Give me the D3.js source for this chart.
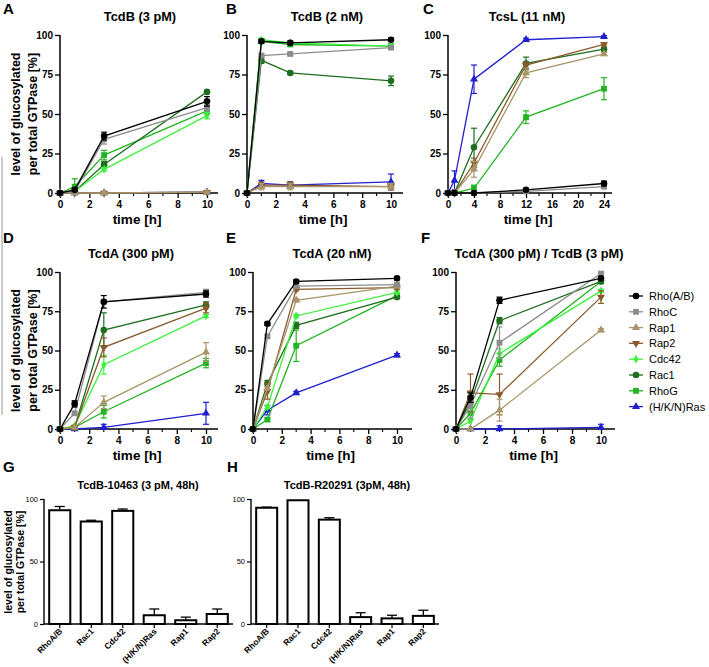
<!DOCTYPE html>
<html>
<head>
<meta charset="utf-8">
<script src="https://cdn.jsdelivr.net/npm/d3@7"></script>
<style>
  body { margin: 0; background: #fff; }
  svg { font-family: Arial, "Liberation Sans", sans-serif; }
</style>
</head>
<body>
<svg id="chart" width="709" height="667"></svg>
<script>
// ---- data ----
const seriesNames = ["Rho(A/B)", "RhoC", "Rap1", "Rap2", "Cdc42", "Rac1", "RhoG", "(H/K/N)Ras"];
const seriesColors = ["#000000", "#8c8c8c", "#a8966a", "#8b5a2b", "#3ef03e", "#1e6e1e", "#22b422", "#1f1fd0"];
const seriesShapes = ["circle", "square", "up", "down", "diamond", "circle", "square", "up"];

const times10 = [0, 1, 3, 10];
const times24 = [0, 1, 4, 12, 24];
const ticks10 = [0, 2, 4, 6, 8, 10];
const ticks24 = [0, 4, 8, 12, 16, 20, 24];
const yTicks = [0, 25, 50, 75, 100];

// TcdB (3 pM)
const tcdB3pM = [[0,2,36,58],[0,1,34,54],[0,0,0,0.5],[0,0,0,0.5],[0,1,15,49],[0,1,18,64],[0,4,24,52],[0,0,0,0.5]];
const tcdB3pMErr = [[0,1,2.5,3],[0,0,3,2],[0,0,0,0],[0,0,0,0],[0,0,1,2],[0,0,2,1],[0,5,3,2],[0,0,0,0]];
// TcdB (2 nM)
const tcdB2nM = [[0,96,95,97],[0,87,88,92],[0,4,4,4],[0,5,5,4],[0,97,95,93],[0,84,76,71],[0,96,94,93],[0,6,5,7]];
const tcdB2nMErr = [[0,1,1,1],[0,1,1,1],[0,2,2,2],[0,2,2,2],[0,1,1,1],[0,2,1,3],[0,1,1,1],[0,2,2,5]];
// TcsL (11 nM)
const tcsL = [[0,0,0,2,6],[0,0,0,1,4],[0,0,15,76,88],[0,0,19,81,94],null,[0,0,29,82,91],[0,0,3,48,66],[0,8,72,97,99]];
const tcsLErr = [[0,0,0,0.5,1.5],[0,0,0,0,1],[0,0,5,3,1],[0,0,3,2,1],null,[0,0,12,4,1],[0,0,2,4,7],[0,6,9,1,0.5]];
// TcdA (300 pM)
const tcdA300 = [[0,16,81,86],[0,10,81,87],[0,1,17,49],[0,1,52,77],[0,2,41,72],[0,1,63,79],[0,1,11,42],[0,0,1,10]];
const tcdA300Err = [[0,2,4,2],[0,1,1,2],[0,0,4,6],[0,0,6,3],[0,0,6,1],[0,0,11,2],[0,0,4,3],[0,0,2,7]];
// TcdA (20 nM)
const tcdA20 = [[0,67,94,96],[0,59,91,92],[0,26,82,91],[0,24,89,90],[0,14,72,87],[0,29,66,84],[0,6,53,85],[0,12,23,47]];
const tcdA20Err = [[0,1,1,1],[0,1,1,1],[0,1,1,1],[0,5,1,1],[0,1,1,1],[0,2,2,1],[0,1,10,1],[0,3,1,1]];
// TcdA (300 pM) / TcdB (3 pM)
const tcdAB = [[0,20,82,96],[0,15,55,99],[0,0,12,63],[0,23,22,84],[0,5,48,88],[0,17,69,94],[0,10,44,94],[0,0,0,1]];
const tcdABErr = [[0,3,2,1],[0,8,10,1],[0,0,7,1],[0,12,13,4],[0,8,3,1],[0,0,2,1],[0,4,4,1],[0,0,2,2]];

// bar panels
const barLabels = ["RhoA/B", "Rac1", "Cdc42", "(H/K/N)Ras", "Rap1", "Rap2"];
const bar10463 = [91, 82, 90.5, 7, 3, 8];
const bar10463Err = [3, 1, 1.5, 5, 2.5, 4];
const barR20291 = [93, 99, 83.5, 5.5, 4.5, 6.5];
const barR20291Err = [0.5, 0, 1.5, 3.5, 2.5, 4.5];
const barTicks = [0, 50, 100];

const svg = d3.select("#chart");

// thin grey line at the left edge (as in the figure)
svg.append("line").attr("x1", 2).attr("x2", 2).attr("y1", 157).attr("y2", 415)
  .attr("stroke", "#999").attr("stroke-width", 1);

function symbolPath(shape) {
  const t = { circle: d3.symbolCircle, square: d3.symbolSquare, up: d3.symbolTriangle,
              down: d3.symbolTriangle, diamond: d3.symbolDiamond }[shape];
  const size = { circle: 34, square: 34, up: 28, down: 28, diamond: 22 }[shape];
  return d3.symbol().type(t).size(size)();
}

function linePanel(p) {
  const g = svg.append("g");
  const x = d3.scaleLinear().domain([0, p.xMax]).range([p.x0, p.x1]);
  const y = d3.scaleLinear().domain([0, 100]).range([p.y0, p.y1]);

  // letter, title
  g.append("text").attr("x", p.lx).attr("y", p.ly).attr("font-size", 15).attr("font-weight", "bold").text(p.letter);
  g.append("text").attr("x", p.tx).attr("y", p.y1 - 14).attr("text-anchor", "middle")
    .attr("font-size", 12.8).attr("font-weight", "bold").text(p.title);

  // y axis
  const ya = g.append("g").attr("transform", `translate(${p.x0},0)`)
    .call(d3.axisLeft(y).tickValues(yTicks).tickSize(5).tickPadding(2).tickSizeOuter(0));
  // x axis
  const xa = g.append("g").attr("transform", `translate(0,${p.y0})`)
    .call(d3.axisBottom(x).tickValues(p.ticks).tickSize(5).tickPadding(3).tickSizeOuter(0));
  [ya, xa].forEach(a => {
    a.select(".domain").remove();
    a.selectAll("line").attr("stroke-width", 1.3);
    a.selectAll("text").attr("font-size", 10).attr("font-weight", "bold").attr("fill", "#000");
  });
  g.append("line").attr("x1", p.x0).attr("x2", p.x0).attr("y1", p.y1).attr("y2", p.y0)
    .attr("stroke", "#000").attr("stroke-width", 1.5);
  g.append("line").attr("x1", p.x0 - 1).attr("x2", p.xEnd).attr("y1", p.y0).attr("y2", p.y0)
    .attr("stroke", "#000").attr("stroke-width", 1.5);
  // minor ticks
  g.selectAll(".minor").data(p.minor).join("line")
    .attr("x1", d => x(d)).attr("x2", d => x(d)).attr("y1", p.y0).attr("y2", p.y0 + 3)
    .attr("stroke", "#000").attr("stroke-width", 1.1);

  g.append("text").attr("x", (p.x0 + p.xEnd) / 2 - 2).attr("y", p.y0 + 31).attr("text-anchor", "middle")
    .attr("font-size", 13.5).attr("font-weight", "bold").text("time [h]");

  if (p.ylabel) {
    const cy = (p.y0 + p.y1) / 2;
    g.append("text").attr("transform", `translate(20,${cy}) rotate(-90)`).attr("text-anchor", "middle")
      .attr("font-size", 12.5).attr("font-weight", "bold").text("level of glucosylated");
    g.append("text").attr("transform", `translate(37,${cy}) rotate(-90)`).attr("text-anchor", "middle")
      .attr("font-size", 12.5).attr("font-weight", "bold").text("per total GTPase [%]");
  }

  const line = d3.line().x(d => x(d[0])).y(d => y(d[1]));
  for (let i = seriesNames.length - 1; i >= 0; i--) {
    const vals = p.values[i];
    if (!vals) continue;
    const errs = p.errs[i];
    const pts = vals.map((v, k) => [p.times[k], v, errs[k]]);
    const col = seriesColors[i];
    const sg = g.append("g");
    sg.append("path").attr("d", line(pts)).attr("fill", "none").attr("stroke", col).attr("stroke-width", 1.3);
    pts.filter(d => d[2] > 0).forEach(d => {
      const cx = x(d[0]), top = y(Math.min(100, d[1] + d[2])), bot = y(Math.max(0, d[1] - d[2]));
      sg.append("line").attr("x1", cx).attr("x2", cx).attr("y1", top).attr("y2", bot).attr("stroke", col).attr("stroke-width", 1.2);
      sg.append("line").attr("x1", cx - 3).attr("x2", cx + 3).attr("y1", top).attr("y2", top).attr("stroke", col).attr("stroke-width", 1.2);
      sg.append("line").attr("x1", cx - 3).attr("x2", cx + 3).attr("y1", bot).attr("y2", bot).attr("stroke", col).attr("stroke-width", 1.2);
    });
    sg.selectAll("path.m").data(pts).join("path").attr("class", "m")
      .attr("d", symbolPath(seriesShapes[i]))
      .attr("transform", d => `translate(${x(d[0])},${y(d[1])})${seriesShapes[i] === "down" ? " rotate(180)" : ""}`)
      .attr("fill", col);
  }
}

const minor10 = [1, 3, 5, 7, 9];
const minor24 = [2, 6, 10, 14, 18, 22];
const row1 = { y0: 193, y1: 35 };
const row2 = { y0: 429, y1: 272 };

linePanel({ letter: "A", lx: 3, ly: 14, title: "TcdB (3 pM)", tx: 140, ...row1, x0: 60, x1: 207, xEnd: 218, xMax: 10,
  ticks: ticks10, minor: minor10, times: times10, values: tcdB3pM, errs: tcdB3pMErr, ylabel: true });
linePanel({ letter: "B", lx: 226, ly: 14, title: "TcdB (2 nM)", tx: 327, ...row1, x0: 247, x1: 391, xEnd: 403, xMax: 10,
  ticks: ticks10, minor: minor10, times: times10, values: tcdB2nM, errs: tcdB2nMErr });
linePanel({ letter: "C", lx: 423, ly: 14, title: "TcsL (11 nM)", tx: 527, ...row1, x0: 448, x1: 604, xEnd: 612, xMax: 24,
  ticks: ticks24, minor: minor24, times: times24, values: tcsL, errs: tcsLErr });
linePanel({ letter: "D", lx: 3, ly: 243, title: "TcdA (300 pM)", tx: 131, ...row2, x0: 60, x1: 206, xEnd: 218, xMax: 10,
  ticks: ticks10, minor: minor10, times: times10, values: tcdA300, errs: tcdA300Err, ylabel: true });
linePanel({ letter: "E", lx: 226, ly: 243, title: "TcdA (20 nM)", tx: 332, ...row2, x0: 253, x1: 397, xEnd: 412, xMax: 10,
  ticks: ticks10, minor: minor10, times: times10, values: tcdA20, errs: tcdA20Err });
linePanel({ letter: "F", lx: 421, ly: 243, title: "TcdA (300 pM) / TcdB (3 pM)", tx: 539, ...row2, x0: 456, x1: 601, xEnd: 615, xMax: 10,
  ticks: ticks10, minor: minor10, times: times10, values: tcdAB, errs: tcdABErr });

// legend
const leg = svg.append("g");
seriesNames.forEach((name, i) => {
  const yy = 296 + i * 15.8;
  leg.append("line").attr("x1", 629).attr("x2", 643).attr("y1", yy).attr("y2", yy)
    .attr("stroke", seriesColors[i]).attr("stroke-width", 1.3);
  leg.append("path").attr("d", symbolPath(seriesShapes[i]))
    .attr("transform", `translate(636,${yy})${seriesShapes[i] === "down" ? " rotate(180)" : ""}`)
    .attr("fill", seriesColors[i]);
  leg.append("text").attr("x", 649).attr("y", yy + 4).attr("font-size", 11).text(name);
});

function barPanel(p) {
  const g = svg.append("g");
  const x = d3.scaleBand().domain(barLabels).range([p.r0, p.r1]).paddingInner(0.33).paddingOuter(0.165);
  const y = d3.scaleLinear().domain([0, 100]).range([624, 499]);

  g.append("text").attr("x", p.lx).attr("y", 472).attr("font-size", 15).attr("font-weight", "bold").text(p.letter);
  g.append("text").attr("x", p.tx).attr("y", 489).attr("text-anchor", "middle")
    .attr("font-size", 11).attr("font-weight", "bold").text(p.title);

  const ya = g.append("g").attr("transform", `translate(${p.r0},0)`)
    .call(d3.axisLeft(y).tickValues(barTicks).tickSize(4).tickPadding(2).tickSizeOuter(0));
  ya.select(".domain").remove();
  ya.selectAll("line").attr("stroke-width", 1.2);
  ya.selectAll("text").attr("font-size", 7.5).attr("fill", "#000");
  g.append("line").attr("x1", p.r0).attr("x2", p.r0).attr("y1", 499).attr("y2", 624).attr("stroke", "#000").attr("stroke-width", 1.4);
  g.append("line").attr("x1", p.r0).attr("x2", p.r1).attr("y1", 624).attr("y2", 624).attr("stroke", "#000").attr("stroke-width", 1.4);

  g.selectAll("line.xt").data(barLabels).join("line").attr("class", "xt")
    .attr("x1", d => x(d) + x.bandwidth() / 2).attr("x2", d => x(d) + x.bandwidth() / 2)
    .attr("y1", 624).attr("y2", 628).attr("stroke", "#000").attr("stroke-width", 1.2);
  g.selectAll("text.xl").data(barLabels).join("text").attr("class", "xl")
    .attr("transform", d => `translate(${x(d) + x.bandwidth() / 2 + 3},${632}) rotate(-45)`)
    .attr("text-anchor", "end").attr("font-size", 8.5).attr("font-weight", "bold").text(d => d);

  // error bars (upper only)
  barLabels.forEach((lab, i) => {
    const cx = x(lab) + x.bandwidth() / 2;
    const top = y(p.values[i] + p.errs[i]);
    if (p.errs[i] > 0) {
      g.append("line").attr("x1", cx).attr("x2", cx).attr("y1", y(p.values[i])).attr("y2", top).attr("stroke", "#000").attr("stroke-width", 1.3);
      g.append("line").attr("x1", cx - 5).attr("x2", cx + 5).attr("y1", top).attr("y2", top).attr("stroke", "#000").attr("stroke-width", 1.3);
    }
  });
  g.selectAll("rect").data(barLabels).join("rect")
    .attr("x", d => x(d)).attr("width", x.bandwidth())
    .attr("y", (d, i) => y(p.values[i])).attr("height", (d, i) => 624 - y(p.values[i]))
    .attr("fill", "#fff").attr("stroke", "#000").attr("stroke-width", 2);

  if (p.ylabel) {
    g.append("text").attr("transform", `translate(12,562) rotate(-90)`).attr("text-anchor", "middle")
      .attr("font-size", 10.5).attr("font-weight", "bold").text("level of glucosylated");
    g.append("text").attr("transform", `translate(24,562) rotate(-90)`).attr("text-anchor", "middle")
      .attr("font-size", 10.5).attr("font-weight", "bold").text("per total GTPase [%]");
  }
}

barPanel({ letter: "G", lx: 3, title: "TcdB-10463 (3 pM, 48h)", tx: 138, r0: 44, r1: 233,
  values: bar10463, errs: bar10463Err, ylabel: true });
barPanel({ letter: "H", lx: 227, title: "TcdB-R20291 (3pM, 48h)", tx: 347, r0: 251, r1: 439,
  values: barR20291, errs: barR20291Err });
</script>
</body>
</html>
